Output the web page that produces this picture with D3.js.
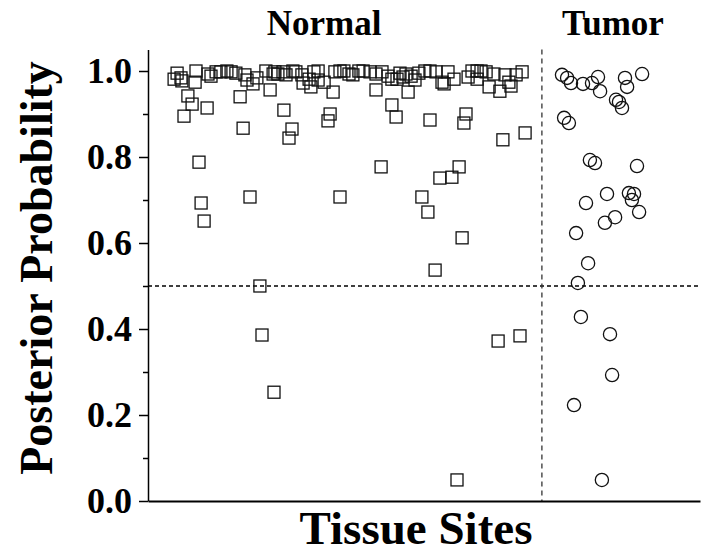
<!DOCTYPE html>
<html>
<head>
<meta charset="utf-8">
<script src="https://cdn.jsdelivr.net/npm/d3@7"></script>
<style>
  html, body { margin: 0; padding: 0; background: #fff; }
  svg text { font-family: "Liberation Serif", "Times New Roman", serif; font-weight: bold; fill: #000; }
</style>
</head>
<body>
<svg id="chart" width="701" height="548"></svg>
<script>
// Normal tissue sites: [site index, posterior probability]
const normalSites = [
  [9.7, 0.995], [8.7, 0.981], [11.0, 0.984], [11.3, 0.977], [16.0, 1.000], [15.7, 0.974],
  [20.0, 0.993], [21.0, 0.988], [22.7, 0.998], [24.3, 0.998], [26.3, 1.000], [27.7, 0.998],
  [29.3, 0.995], [32.3, 0.991], [33.0, 0.979], [35.0, 0.970], [36.3, 0.984], [39.3, 1.000],
  [40.7, 0.956], [41.7, 0.993], [13.3, 0.942], [14.7, 0.923], [19.7, 0.914], [12.0, 0.895],
  [30.7, 0.940], [42.3, 0.998], [43.3, 0.993], [45.0, 0.998], [46.0, 0.991], [48.3, 1.000],
  [49.3, 0.998], [51.3, 0.991], [51.7, 0.972], [53.7, 0.981], [54.3, 0.963], [55.3, 0.998],
  [56.7, 1.000], [56.7, 0.979], [58.7, 0.974], [61.7, 0.951], [62.3, 0.998], [64.0, 1.000],
  [65.3, 1.000], [67.0, 0.993], [68.3, 0.991], [70.3, 1.000], [71.7, 1.000], [74.0, 0.998],
  [76.0, 0.956], [76.0, 0.993], [78.0, 0.998], [80.0, 0.988], [81.3, 0.981], [83.0, 0.981],
  [45.3, 0.909], [60.7, 0.900], [60.0, 0.884], [81.3, 0.921], [82.7, 0.893], [48.0, 0.865],
  [47.0, 0.844], [31.7, 0.867], [84.0, 0.995], [85.0, 0.986], [86.0, 0.993], [86.7, 0.951],
  [87.7, 0.988], [89.0, 0.979], [90.3, 0.995], [92.3, 1.000], [94.0, 1.000], [96.0, 0.998],
  [98.0, 0.974], [98.7, 0.970], [100.0, 0.998], [102.0, 0.981], [106.7, 0.986], [108.0, 1.000],
  [109.7, 1.000], [109.7, 0.981], [111.0, 1.000], [112.7, 0.998], [113.7, 0.963], [115.3, 0.993],
  [117.3, 0.953], [119.0, 0.991], [120.3, 0.974], [121.0, 0.965], [122.7, 0.991], [124.7, 0.998],
  [94.0, 0.886], [106.0, 0.900], [105.3, 0.879], [118.3, 0.840], [125.7, 0.856],
  [17.0, 0.788], [77.7, 0.777], [97.3, 0.751], [101.3, 0.753], [103.7, 0.777], [34.0, 0.707],
  [64.0, 0.707], [91.3, 0.707], [93.3, 0.672], [17.7, 0.693], [18.7, 0.651], [104.7, 0.612],
  [95.7, 0.537], [37.3, 0.500], [38.0, 0.386], [42.0, 0.253], [116.7, 0.372], [124.0, 0.384],
  [103.0, 0.049]
];

// Tumor tissue sites: [site index, posterior probability]
const tumorSites = [
  [138.0, 0.991], [139.7, 0.984], [141.0, 0.972], [145.0, 0.970], [148.0, 0.972], [150.0, 0.986],
  [150.7, 0.953], [159.0, 0.984], [159.7, 0.963], [164.7, 0.993], [156.0, 0.933], [157.0, 0.928],
  [158.0, 0.914], [138.7, 0.891], [140.3, 0.879], [147.3, 0.793], [149.0, 0.786], [163.0, 0.779],
  [153.0, 0.714], [160.3, 0.716], [162.0, 0.714], [161.3, 0.700], [146.0, 0.693], [163.7, 0.672],
  [155.7, 0.660], [152.3, 0.647], [142.7, 0.623], [146.7, 0.553], [143.3, 0.507], [144.3, 0.428],
  [154.0, 0.388], [154.7, 0.293], [142.0, 0.223], [151.3, 0.049]
];

const majorTicks = [0.0, 0.2, 0.4, 0.6, 0.8, 1.0];
const minorTicks = [0.1, 0.3, 0.5, 0.7, 0.9];
const groupLabels = [
  { text: 'Normal', site: 58.7 },
  { text: 'Tumor',  site: 155.0 }
];
const siteBoundary = 131.3;   // dashed line between normal and tumor sites
const threshold = 0.5;        // decision threshold

const MARGIN = { top: 49.5, right: 1, bottom: 47, left: 148 };
const W = 701, H = 548;

const svg = d3.select('#chart');

const x = d3.scaleLinear().domain([0, 184]).range([MARGIN.left, W - MARGIN.right]);
const y = d3.scaleLinear().domain([0, 1.05]).range([H - MARGIN.bottom, MARGIN.top]);

// Threshold + separator lines
svg.append('line')
  .attr('x1', x(0)).attr('x2', x(184))
  .attr('y1', y(threshold)).attr('y2', y(threshold))
  .attr('stroke', '#000').attr('stroke-width', 1.3)
  .attr('stroke-dasharray', '4,3');

svg.append('line')
  .attr('x1', x(siteBoundary)).attr('x2', x(siteBoundary))
  .attr('y1', y(1.05)).attr('y2', y(0))
  .attr('stroke', '#333').attr('stroke-width', 1.3)
  .attr('stroke-dasharray', '5,4');

// Axes
svg.append('g')
  .attr('transform', `translate(${x(0)},0)`)
  .call(d3.axisLeft(y).tickValues(minorTicks).tickSize(5).tickSizeOuter(0).tickFormat(''))
  .call(g => g.select('.domain').remove())
  .call(g => g.selectAll('line').attr('stroke-width', 1.5));

svg.append('g')
  .attr('transform', `translate(${x(0)},0)`)
  .call(d3.axisLeft(y).tickValues(majorTicks).tickSize(9).tickSizeOuter(0).tickPadding(7).tickFormat(d3.format('.1f')))
  .call(g => g.select('.domain').attr('stroke-width', 1.5))
  .call(g => g.selectAll('line').attr('stroke-width', 1.5))
  .call(g => g.selectAll('text')
    .attr('font-family', '"Liberation Serif", "Times New Roman", serif')
    .attr('font-weight', 'bold')
    .attr('font-size', 36));

svg.append('g')
  .attr('transform', `translate(0,${y(0)})`)
  .call(d3.axisBottom(x).tickValues([]).tickSizeOuter(0))
  .call(g => g.select('.domain').attr('stroke-width', 1.8));

// Markers
svg.append('g').selectAll('rect')
  .data(normalSites)
  .join('rect')
    .attr('x', d => x(d[0]) - 6)
    .attr('y', d => y(d[1]) - 6)
    .attr('width', 12).attr('height', 12)
    .attr('fill', 'none')
    .attr('stroke', '#111').attr('stroke-width', 1.3);

svg.append('g').selectAll('circle')
  .data(tumorSites)
  .join('circle')
    .attr('cx', d => x(d[0]))
    .attr('cy', d => y(d[1]))
    .attr('r', 6.6)
    .attr('fill', 'none')
    .attr('stroke', '#111').attr('stroke-width', 1.3);

// Labels
svg.selectAll('.group-label')
  .data(groupLabels)
  .join('text')
    .attr('class', 'group-label')
    .attr('x', d => x(d.site))
    .attr('y', 35)
    .attr('text-anchor', 'middle')
    .attr('font-size', 35)
    .text(d => d.text);

svg.append('text')
  .attr('x', 416).attr('y', 544)
  .attr('text-anchor', 'middle')
  .attr('font-size', 47)
  .text('Tissue Sites');

svg.append('text')
  .attr('transform', 'translate(52,268) rotate(-90)')
  .attr('text-anchor', 'middle')
  .attr('font-size', 46)
  .text('Posterior Probability');
</script>
</body>
</html>
